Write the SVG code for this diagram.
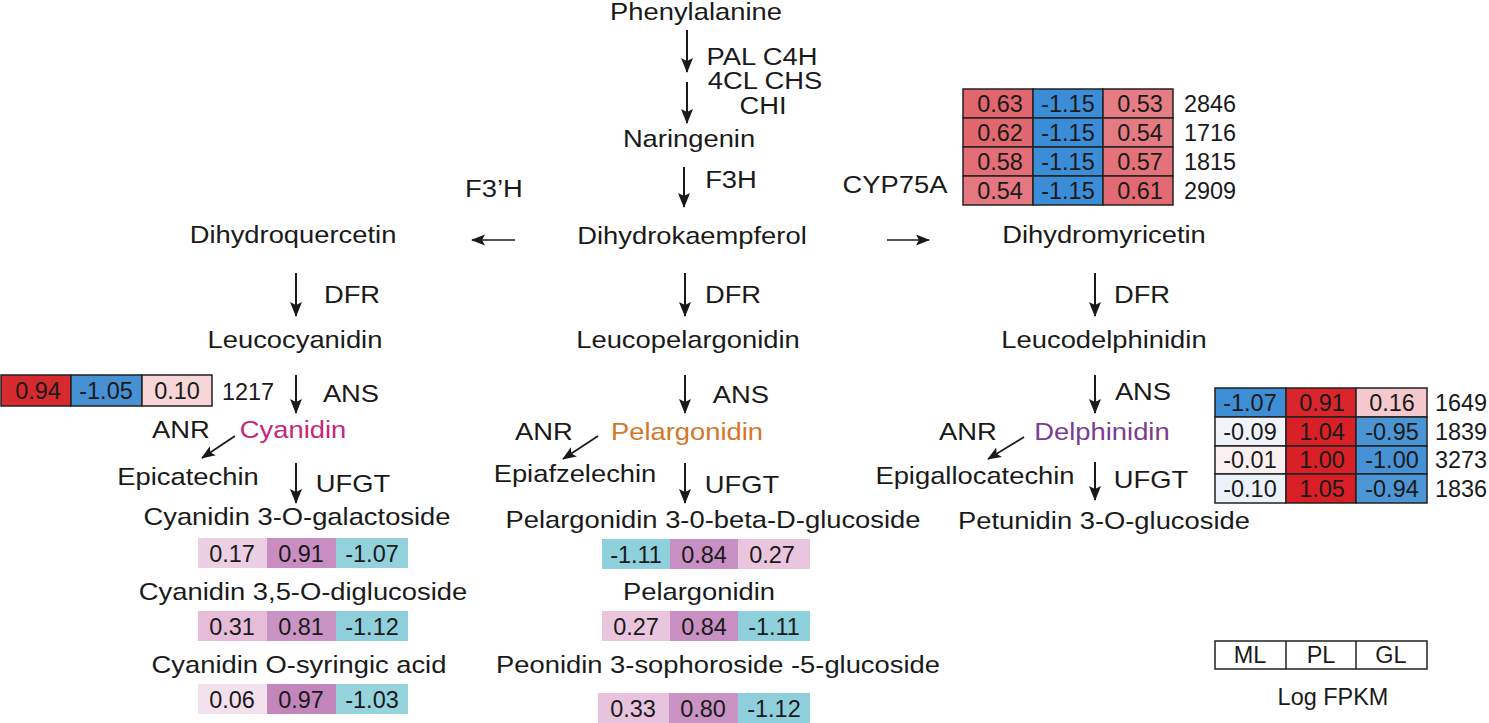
<svg xmlns="http://www.w3.org/2000/svg" width="1489" height="723" viewBox="0 0 1489 723">
<style>
text { font-family: "Liberation Sans", Arial, Helvetica, sans-serif; fill: #1a1a1a; text-anchor: middle; transform-box: fill-box; transform-origin: center; }
.t { font-size: 24px; transform: scaleX(1.14); }
.n { font-size: 23px; transform: scaleX(1.02); }
.cy { fill: #c4287a; }
.pe { fill: #d4762b; }
.de { fill: #7b3d91; }
.ar { stroke: #1a1a1a; stroke-width: 2; fill: none; marker-end: url(#ah); }
.hr { stroke: #1a1a1a; stroke-width: 1.7; fill: none; marker-end: url(#ah2); }
.cell { stroke: #222; stroke-width: 1.5; }
.flat { stroke: none; }
.leg { fill: #fff; stroke: #222; stroke-width: 1.5; }
</style>
<defs>
<marker id="ah" markerUnits="userSpaceOnUse" markerWidth="18" markerHeight="14" refX="14" refY="6" orient="auto">
<path d="M0,0 L15,6 L0,12 L3,6 Z" fill="#1a1a1a"/>
</marker>
<marker id="ah2" markerUnits="userSpaceOnUse" markerWidth="18" markerHeight="14" refX="13" refY="5.5" orient="auto">
<path d="M0,0 L14,5.5 L0,11 L3,5.5 Z" fill="#1a1a1a"/>
</marker>
</defs>
<rect width="1489" height="723" fill="#fff"/>

<g id="connectors">
<line class="ar" x1="687" y1="30" x2="687" y2="72"/>
<line class="ar" x1="687" y1="82" x2="687" y2="123"/>
<line class="ar" x1="684" y1="167" x2="684" y2="207"/>
<line class="hr" x1="515" y1="240" x2="472" y2="240"/>
<line class="hr" x1="887" y1="240" x2="929" y2="240"/>
<line class="ar" x1="296" y1="273" x2="296" y2="316"/>
<line class="ar" x1="685" y1="273" x2="685" y2="316"/>
<line class="ar" x1="1095" y1="273" x2="1095" y2="316"/>
<line class="ar" x1="296" y1="375" x2="296" y2="413"/>
<line class="ar" x1="685" y1="375" x2="685" y2="413"/>
<line class="ar" x1="1095" y1="375" x2="1095" y2="413"/>
<line class="hr" x1="235" y1="436" x2="202" y2="458"/>
<line class="hr" x1="598" y1="436" x2="563" y2="459"/>
<line class="hr" x1="1024" y1="437" x2="988" y2="459"/>
<line class="ar" x1="296" y1="463" x2="296" y2="503"/>
<line class="ar" x1="685" y1="463" x2="685" y2="503"/>
<line class="ar" x1="1095" y1="462" x2="1095" y2="500"/>
</g>

<g id="enzymes">
<text class="t" x="762" y="65">PAL C4H</text>
<text class="t" x="765" y="89">4CL CHS</text>
<text class="t" x="763" y="114">CHI</text>
<text class="t" x="731" y="188">F3H</text>
<text class="t" x="494" y="197">F3’H</text>
<text class="t" x="895" y="193">CYP75A</text>
<text class="t" x="352" y="303">DFR</text>
<text class="t" x="733" y="303">DFR</text>
<text class="t" x="1142" y="303">DFR</text>
<text class="t" x="351" y="402">ANS</text>
<text class="t" x="741" y="403">ANS</text>
<text class="t" x="1143" y="400">ANS</text>
<text class="t" x="181" y="438">ANR</text>
<text class="t" x="544" y="440">ANR</text>
<text class="t" x="968" y="440">ANR</text>
<text class="t" x="353" y="492">UFGT</text>
<text class="t" x="742" y="493">UFGT</text>
<text class="t" x="1151" y="488">UFGT</text>
</g>

<g id="n-phenylalanine"><text class="t" x="696" y="20">Phenylalanine</text></g>
<g id="n-naringenin"><text class="t" x="689" y="147">Naringenin</text></g>
<g id="n-dihydrokaempferol"><text class="t" x="692" y="244">Dihydrokaempferol</text></g>
<g id="n-dihydroquercetin"><text class="t" x="293" y="243">Dihydroquercetin</text></g>
<g id="n-dihydromyricetin"><text class="t" x="1104" y="243">Dihydromyricetin</text></g>
<g id="n-leucocyanidin"><text class="t" x="295" y="348">Leucocyanidin</text></g>
<g id="n-leucopelargonidin"><text class="t" x="688" y="348">Leucopelargonidin</text></g>
<g id="n-leucodelphinidin"><text class="t" x="1104" y="348">Leucodelphinidin</text></g>
<g id="n-cyanidin"><text class="t cy" x="293" y="438">Cyanidin</text></g>
<g id="n-pelargonidin"><text class="t pe" x="687" y="440">Pelargonidin</text></g>
<g id="n-delphinidin"><text class="t de" x="1102" y="440">Delphinidin</text></g>
<g id="n-epicatechin"><text class="t" x="188" y="485">Epicatechin</text></g>
<g id="n-epiafzelechin"><text class="t" x="575" y="482">Epiafzelechin</text></g>
<g id="n-epigallocatechin"><text class="t" x="975" y="484">Epigallocatechin</text></g>
<g id="n-cy3gal"><text class="t" x="297" y="525">Cyanidin 3-O-galactoside</text></g>
<g id="n-pg3glc"><text class="t" x="713" y="528">Pelargonidin 3-0-beta-D-glucoside</text></g>
<g id="n-pt3glc"><text class="t" x="1104" y="529">Petunidin 3-O-glucoside</text></g>
<g id="n-cy35"><text class="t" x="303" y="600">Cyanidin 3,5-O-diglucoside</text></g>
<g id="n-pg"><text class="t" x="699" y="600">Pelargonidin</text></g>
<g id="n-cysyr"><text class="t" x="299" y="673">Cyanidin O-syringic acid</text></g>
<g id="n-peo"><text class="t" x="718" y="673">Peonidin 3-sophoroside -5-glucoside</text></g>

<g id="hm-cyp75a">
<rect class="cell" x="963" y="89" width="70" height="29" fill="#e2666e"/>
<rect class="cell" x="1033" y="89" width="70" height="29" fill="#3a8dd6"/>
<rect class="cell" x="1103" y="89" width="70" height="29" fill="#e67d84"/>
<rect class="cell" x="963" y="118" width="70" height="29" fill="#e2686f"/>
<rect class="cell" x="1033" y="118" width="70" height="29" fill="#3a8dd6"/>
<rect class="cell" x="1103" y="118" width="70" height="29" fill="#e57b82"/>
<rect class="cell" x="963" y="147" width="70" height="29" fill="#e36e75"/>
<rect class="cell" x="1033" y="147" width="70" height="29" fill="#3a8dd6"/>
<rect class="cell" x="1103" y="147" width="70" height="29" fill="#e47379"/>
<rect class="cell" x="963" y="176" width="70" height="29" fill="#e4777f"/>
<rect class="cell" x="1033" y="176" width="70" height="29" fill="#3a8dd6"/>
<rect class="cell" x="1103" y="176" width="70" height="29" fill="#e26a72"/>
<text class="n" x="1000" y="112">0.63</text><text class="n" x="1068" y="112">-1.15</text><text class="n" x="1140" y="112">0.53</text><text class="n" x="1210" y="112">2846</text>
<text class="n" x="1000" y="141">0.62</text><text class="n" x="1068" y="141">-1.15</text><text class="n" x="1140" y="141">0.54</text><text class="n" x="1210" y="141">1716</text>
<text class="n" x="1000" y="170">0.58</text><text class="n" x="1068" y="170">-1.15</text><text class="n" x="1140" y="170">0.57</text><text class="n" x="1210" y="170">1815</text>
<text class="n" x="1000" y="199">0.54</text><text class="n" x="1068" y="199">-1.15</text><text class="n" x="1140" y="199">0.61</text><text class="n" x="1210" y="199">2909</text>
</g>

<g id="hm-ans-left">
<rect class="cell" x="1" y="375" width="70" height="31" fill="#d62a2f"/>
<rect class="cell" x="71" y="375" width="71" height="31" fill="#4690d3"/>
<rect class="cell" x="142" y="375" width="70" height="31" fill="#f7d6d8"/>
<text class="n" x="38" y="399">0.94</text><text class="n" x="106" y="399">-1.05</text><text class="n" x="177" y="399">0.10</text><text class="n" x="248" y="400">1217</text>
</g>

<g id="hm-ans-right">
<rect class="cell" x="1215" y="388" width="71" height="29" fill="#3d8ed5"/>
<rect class="cell" x="1286" y="388" width="70" height="29" fill="#d8262c"/>
<rect class="cell" x="1356" y="388" width="71" height="29" fill="#f4c9cd"/>
<rect class="cell" x="1215" y="417" width="71" height="29" fill="#f0f4fa"/>
<rect class="cell" x="1286" y="417" width="70" height="29" fill="#d92027"/>
<rect class="cell" x="1356" y="417" width="71" height="29" fill="#4b95d4"/>
<rect class="cell" x="1215" y="446" width="71" height="28" fill="#fbf0f1"/>
<rect class="cell" x="1286" y="446" width="70" height="28" fill="#d92027"/>
<rect class="cell" x="1356" y="446" width="71" height="28" fill="#4792d4"/>
<rect class="cell" x="1215" y="474" width="71" height="29" fill="#ecf2fa"/>
<rect class="cell" x="1286" y="474" width="70" height="29" fill="#d81f26"/>
<rect class="cell" x="1356" y="474" width="71" height="29" fill="#4c96d5"/>
<text class="n" x="1250" y="411">-1.07</text><text class="n" x="1322" y="411">0.91</text><text class="n" x="1392" y="411">0.16</text><text class="n" x="1461" y="411">1649</text>
<text class="n" x="1250" y="440">-0.09</text><text class="n" x="1322" y="440">1.04</text><text class="n" x="1392" y="440">-0.95</text><text class="n" x="1461" y="440">1839</text>
<text class="n" x="1250" y="468">-0.01</text><text class="n" x="1322" y="468">1.00</text><text class="n" x="1392" y="468">-1.00</text><text class="n" x="1461" y="468">3273</text>
<text class="n" x="1250" y="497">-0.10</text><text class="n" x="1322" y="497">1.05</text><text class="n" x="1392" y="497">-0.94</text><text class="n" x="1461" y="497">1836</text>
</g>

<g id="hm-cy3gal">
<rect class="flat" x="198" y="538" width="69" height="30" fill="#edcfe4"/>
<rect class="flat" x="267" y="538" width="69" height="30" fill="#c98dc1"/>
<rect class="flat" x="336" y="538" width="72" height="30" fill="#93d2dc"/>
<text class="n" x="232" y="562">0.17</text><text class="n" x="301" y="562">0.91</text><text class="n" x="372" y="562">-1.07</text>
</g>
<g id="hm-cy35">
<rect class="flat" x="198" y="611" width="69" height="30" fill="#e6bcd9"/>
<rect class="flat" x="267" y="611" width="69" height="30" fill="#c994c4"/>
<rect class="flat" x="336" y="611" width="72" height="30" fill="#8ecfdb"/>
<text class="n" x="232" y="635">0.31</text><text class="n" x="301" y="635">0.81</text><text class="n" x="372" y="635">-1.12</text>
</g>
<g id="hm-cysyr">
<rect class="flat" x="198" y="684" width="69" height="30" fill="#f3e0ed"/>
<rect class="flat" x="267" y="684" width="69" height="30" fill="#c386bc"/>
<rect class="flat" x="336" y="684" width="72" height="30" fill="#95d3dd"/>
<text class="n" x="232" y="708">0.06</text><text class="n" x="301" y="708">0.97</text><text class="n" x="372" y="708">-1.03</text>
</g>
<g id="hm-pg3glc">
<rect class="flat" x="602" y="539" width="68" height="30" fill="#8ed0dc"/>
<rect class="flat" x="670" y="539" width="68" height="30" fill="#c88fc2"/>
<rect class="flat" x="738" y="539" width="72" height="30" fill="#eac5de"/>
<text class="n" x="636" y="563">-1.11</text><text class="n" x="704" y="563">0.84</text><text class="n" x="772" y="563">0.27</text>
</g>
<g id="hm-pg">
<rect class="flat" x="602" y="611" width="68" height="30" fill="#eac5de"/>
<rect class="flat" x="670" y="611" width="68" height="30" fill="#c88fc2"/>
<rect class="flat" x="738" y="611" width="72" height="30" fill="#8ed0dc"/>
<text class="n" x="636" y="635">0.27</text><text class="n" x="704" y="635">0.84</text><text class="n" x="774" y="635">-1.11</text>
</g>
<g id="hm-peo">
<rect class="flat" x="598" y="693" width="71" height="30" fill="#e8c3dd"/>
<rect class="flat" x="669" y="693" width="69" height="30" fill="#c993c4"/>
<rect class="flat" x="738" y="693" width="72" height="30" fill="#8ecfdb"/>
<text class="n" x="633" y="717">0.33</text><text class="n" x="703" y="717">0.80</text><text class="n" x="774" y="717">-1.12</text>
</g>

<g id="legend">
<rect class="leg" x="1215" y="641" width="212" height="28"/>
<line x1="1286" y1="641" x2="1286" y2="669" stroke="#222" stroke-width="1.5"/>
<line x1="1356" y1="641" x2="1356" y2="669" stroke="#222" stroke-width="1.5"/>
<text class="n" x="1250" y="663">ML</text>
<text class="n" x="1321" y="663">PL</text>
<text class="n" x="1391" y="663">GL</text>
<text class="n" x="1333" y="705">Log FPKM</text>
</g>
</svg>
